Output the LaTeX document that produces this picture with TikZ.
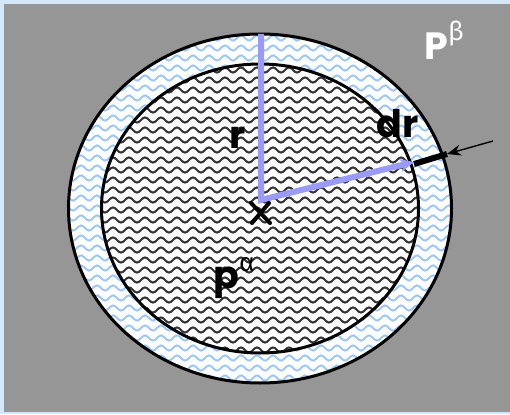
\documentclass[tikz,border=0pt]{standalone}
\usepackage{fontspec}
\setmainfont{Fira Sans}
\newfontfamily\popf{Poppins}
\usetikzlibrary{decorations.pathmorphing,arrows.meta}
\definecolor{bggray}{HTML}{969696}
\definecolor{edgeblue}{HTML}{D2E8F8}
\definecolor{waveblue}{HTML}{9CC6F8}
\definecolor{radblue}{HTML}{9A9AF8}
\tikzset{
  wavy/.style={decorate,decoration={snake,segment length=16pt,amplitude=2.6pt}},
  rim/.style={draw=black,line width=3pt},
  radline/.style={draw=radblue,line width=6pt,line join=miter},
  lbl/.style={inner sep=0pt,font=\popf\fontsize{38}{40}\selectfont\bfseries},
}
\begin{document}
\begin{tikzpicture}[x=1pt,y=-1pt]
\useasboundingbox (0,0) rectangle (510,414);
\fill[edgeblue] (0,0) rectangle (510,414);
\fill[bggray] (4,4) rectangle (510,412);
\coordinate (O) at (260,208.5);
% outer ring
\fill[white] (O) ellipse [x radius=191.5, y radius=174.5];
\begin{scope}
  \clip (O) ellipse [x radius=191.5, y radius=174.5];
  \foreach \y in {28,38,...,392} \draw[waveblue,line width=1.9pt,wavy] (60,\y) -- (465,\y);
\end{scope}
% inner disc
\fill[white] (O) ellipse [x radius=158.5, y radius=144.5];
\begin{scope}
  \clip (O) ellipse [x radius=158.5, y radius=144.5];
  \foreach \y in {60,70,...,360} \draw[black!80,line width=2pt,wavy] (60,\y) -- (465,\y);
\end{scope}
\draw[rim] (O) ellipse [x radius=191.5, y radius=174.5];
\draw[rim] (O) ellipse [x radius=158.5, y radius=144.5];
% radii
\coordinate (top) at (261,34);
\coordinate (corner) at (261,200);
\coordinate (tip) at (414,162);
\draw[radline,-{Stealth[length=14pt,width=13pt]}] (top) -- (corner) -- (tip);
\coordinate (drA) at (414,164);
\coordinate (drB) at (447,154);
\draw[line width=6pt] (drA) -- (drB);
\coordinate (arrS) at (493,141);
\draw[line width=1.4pt,-{Stealth[length=14pt,width=11pt]}] (arrS) -- (drB);
% centre mark
\coordinate (x1) at (251,203);
\coordinate (x2) at (270,223);
\coordinate (x3) at (269,203);
\coordinate (x4) at (252,223);
\draw[line width=4pt,line cap=round] (x1) -- (x2) (x3) -- (x4);
% labels
\node[lbl] (r) at (238,138) {r};
\node[lbl] (dr) at (398,124) {dr};
\node[lbl,text=white] (Pb) at (444,40) {P\raisebox{0.5em}{\fontspec{Fira Sans}\mdseries\fontsize{26}{26}\selectfont β}};
\node[lbl] (pa) at (234,278) {p\raisebox{0.45em}{\fontspec{Fira Sans}\mdseries\fontsize{26}{26}\selectfont α}};
\end{tikzpicture}
\end{document}
